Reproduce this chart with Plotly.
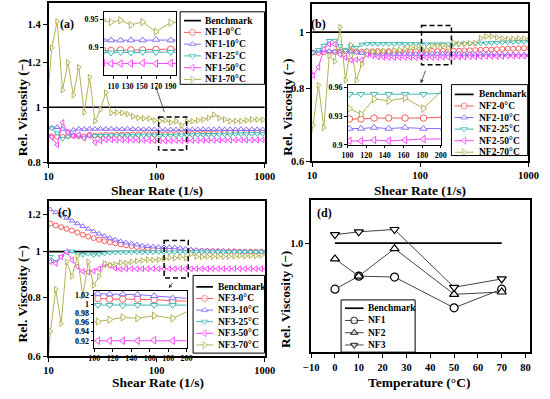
import math
import plotly.graph_objects as go

# ---------------- data ----------------
# shear-rate grids (1/s); first entry lies just left of the axis (line enters from the edge)
SHEAR_A = [9.54, 10.7, 12.01, 13.47, 15.11, 16.96, 19.03, 21.35, 23.95, 26.88, 30.16, 33.84, 37.96, 42.60,
           47.79, 53.63, 60.17, 67.51, 75.75, 84.99, 95.36, 107.0, 120.1, 134.7, 151.1, 169.6, 190.3, 213.5,
           239.5, 268.8, 301.6, 338.4, 379.6, 426.0, 477.9, 536.3, 601.7, 675.1, 757.5, 849.9, 953.6, 1070]
SHEAR_B = [9.09, 10.2, 11.44, 12.84, 14.41, 16.17, 18.14, 20.35, 22.83, 25.62, 28.75, 32.26, 36.19, 40.61,
           45.56, 51.12, 57.36, 64.36, 72.21, 81.02, 90.91, 102.0, 114.4, 128.4, 144.1, 161.7, 181.4, 203.5,
           228.3, 256.2, 287.5, 322.6, 361.9, 406.1, 455.6, 511.2, 573.6, 643.6, 722.1, 810.2, 909.1, 1020]
SHEAR_C = [9.27, 10.4, 11.67, 13.09, 14.69, 16.48, 18.49, 20.75, 23.28, 26.12, 29.31, 32.89, 36.90, 41.40,
           46.45, 52.12, 58.48, 65.62, 73.63, 82.61, 92.69, 104.0, 116.7, 130.9, 146.9, 164.8, 184.9, 207.5,
           232.8, 261.2, 293.1, 328.9, 369.0, 414.0, 464.5, 521.2, 584.8, 656.2, 736.3, 826.1, 926.9, 1040]

# (a) NF1
A_0 = [0.890, 0.888, 0.887, 0.886, 0.889, 0.891, 0.889, 0.888, 0.893, 0.891,
       0.892, 0.893, 0.893, 0.894, 0.894, 0.894, 0.895, 0.895, 0.896, 0.895,
       0.895, 0.895, 0.896, 0.896, 0.896, 0.897, 0.897, 0.897, 0.898, 0.898,
       0.899, 0.899, 0.900, 0.900, 0.901, 0.901, 0.902, 0.902, 0.903, 0.903,
       0.904, 0.904]
A_10 = [0.920, 0.920, 0.922, 0.915, 0.905, 0.912, 0.916, 0.915, 0.916, 0.915,
        0.916, 0.915, 0.916, 0.915, 0.915, 0.916, 0.915, 0.915, 0.914, 0.915,
        0.914, 0.913, 0.913, 0.913, 0.913, 0.914, 0.913, 0.914, 0.914, 0.914,
        0.914, 0.914, 0.915, 0.914, 0.914, 0.914, 0.915, 0.914, 0.914, 0.914,
        0.914, 0.914]
A_25 = [0.920, 0.918, 0.900, 0.879, 0.888, 0.893, 0.890, 0.882, 0.889, 0.890,
        0.891, 0.891, 0.892, 0.891, 0.892, 0.892, 0.891, 0.892, 0.892, 0.892,
        0.892, 0.891, 0.892, 0.891, 0.892, 0.892, 0.892, 0.893, 0.893, 0.894,
        0.894, 0.894, 0.895, 0.895, 0.895, 0.896, 0.896, 0.896, 0.897, 0.897,
        0.897, 0.897]
A_50 = [0.910, 0.885, 0.858, 0.940, 0.902, 0.890, 0.894, 0.882, 0.893, 0.866,
        0.872, 0.876, 0.876, 0.875, 0.875, 0.874, 0.875, 0.874, 0.874, 0.873,
        0.873, 0.872, 0.872, 0.872, 0.873, 0.872, 0.873, 0.873, 0.873, 0.874,
        0.874, 0.874, 0.874, 0.875, 0.874, 0.875, 0.875, 0.875, 0.875, 0.875,
        0.875, 0.875]
A_70 = [0.970, 1.274, 1.418, 1.072, 1.200, 1.050, 1.177, 0.979, 1.130, 0.945,
        0.990, 1.061, 0.977, 0.979, 0.977, 0.973, 0.964, 0.958, 0.956, 0.955,
        0.948, 0.945, 0.948, 0.940, 0.945, 0.928, 0.944, 0.945, 0.948, 0.951,
        0.957, 0.970, 0.957, 0.951, 0.945, 0.945, 0.945, 0.948, 0.951, 0.951,
        0.950, 0.950]

# (b) NF2
B_0 = [0.920, 0.922, 0.921, 0.923, 0.925, 0.924, 0.926, 0.927, 0.929, 0.926,
       0.925, 0.926, 0.926, 0.927, 0.926, 0.927, 0.927, 0.927, 0.927, 0.927,
       0.927, 0.927, 0.927, 0.928, 0.928, 0.928, 0.928, 0.929, 0.929, 0.930,
       0.930, 0.931, 0.932, 0.933, 0.933, 0.934, 0.935, 0.936, 0.936, 0.937,
       0.938, 0.938]
B_10 = [0.920, 0.922, 0.928, 0.930, 0.927, 0.925, 0.924, 0.930, 0.925, 0.922,
        0.920, 0.919, 0.918, 0.918, 0.917, 0.918, 0.917, 0.917, 0.917, 0.917,
        0.917, 0.917, 0.917, 0.918, 0.917, 0.918, 0.917, 0.917, 0.917, 0.916,
        0.916, 0.916, 0.916, 0.916, 0.916, 0.915, 0.915, 0.915, 0.915, 0.915,
        0.915, 0.915]
B_25 = [0.920, 0.922, 0.932, 0.948, 0.966, 0.967, 0.946, 0.930, 0.946, 0.940,
        0.952, 0.954, 0.955, 0.954, 0.955, 0.954, 0.954, 0.955, 0.954, 0.954,
        0.954, 0.953, 0.953, 0.953, 0.953, 0.953, 0.953, 0.954, 0.954, 0.955,
        0.955, 0.955, 0.956, 0.957, 0.958, 0.959, 0.960, 0.961, 0.962, 0.962,
        0.963, 0.963]
B_50 = [0.920, 0.842, 0.870, 0.934, 0.953, 0.953, 0.915, 0.904, 0.895, 0.897,
        0.895, 0.915, 0.910, 0.906, 0.905, 0.904, 0.904, 0.904, 0.904, 0.904,
        0.904, 0.904, 0.904, 0.905, 0.904, 0.905, 0.906, 0.906, 0.906, 0.906,
        0.907, 0.907, 0.907, 0.908, 0.908, 0.908, 0.908, 0.909, 0.909, 0.909,
        0.909, 0.909]
B_70 = [0.610, 0.692, 0.810, 0.685, 0.910, 0.890, 1.020, 0.826, 0.950, 0.826,
        0.880, 0.928, 0.925, 0.927, 0.928, 0.926, 0.930, 0.932, 0.935, 0.940,
        0.942, 0.938, 0.932, 0.948, 0.946, 0.949, 0.938, 0.959, 0.954, 0.955,
        0.957, 0.957, 0.976, 0.983, 0.983, 0.979, 0.975, 0.973, 0.973, 0.975,
        0.975, 0.975]

# (c) NF3
C_0 = [1.155, 1.148, 1.137, 1.128, 1.118, 1.109, 1.098, 1.087, 1.077, 1.069,
       1.060, 1.053, 1.047, 1.042, 1.037, 1.032, 1.028, 1.024, 1.020, 1.017,
       1.014, 1.012, 1.011, 1.011, 1.011, 1.010, 1.007, 1.005, 1.004, 1.003,
       1.003, 1.002, 1.002, 1.001, 1.001, 1.001, 1.000, 1.000, 1.000, 1.000,
       1.000, 1.000]
C_10 = [1.245, 1.230, 1.212, 1.198, 1.180, 1.163, 1.148, 1.133, 1.118, 1.104,
        1.092, 1.080, 1.069, 1.060, 1.052, 1.045, 1.040, 1.035, 1.030, 1.027,
        1.025, 1.023, 1.022, 1.022, 1.021, 1.018, 1.013, 1.010, 1.008, 1.006,
        1.005, 1.004, 1.003, 1.003, 1.002, 1.002, 1.001, 1.001, 1.000, 1.000,
        1.000, 1.000]
C_25 = [0.980, 0.976, 0.952, 0.975, 1.000, 1.002, 0.990, 0.985, 0.990, 0.983,
        0.988, 0.992, 0.995, 0.996, 0.997, 0.997, 0.997, 0.998, 0.997, 0.998,
        0.998, 0.998, 0.998, 0.997, 0.998, 0.998, 0.998, 0.998, 0.998, 0.998,
        0.998, 0.998, 0.998, 0.998, 0.998, 0.998, 0.998, 0.998, 0.998, 0.998,
        0.998, 0.998]
C_50 = [0.960, 0.952, 0.944, 0.975, 1.000, 0.960, 0.930, 0.908, 0.905, 0.910,
        0.920, 0.939, 0.934, 0.922, 0.918, 0.920, 0.920, 0.919, 0.920, 0.920,
        0.920, 0.920, 0.920, 0.920, 0.920, 0.921, 0.920, 0.920, 0.920, 0.920,
        0.920, 0.920, 0.920, 0.920, 0.920, 0.920, 0.920, 0.920, 0.920, 0.920,
        0.920, 0.920]
C_70 = [0.480, 0.677, 0.832, 0.703, 0.952, 0.886, 0.979, 0.805, 0.952, 0.848,
        0.886, 0.944, 0.936, 0.940, 0.948, 0.946, 0.952, 0.955, 0.958, 0.962,
        0.960, 0.962, 0.966, 0.971, 0.969, 0.975, 0.969, 0.990, 0.976, 0.975,
        0.977, 0.976, 0.978, 0.976, 0.977, 0.978, 0.980, 0.979, 0.981, 0.980,
        0.982, 0.982]

# (d) relative viscosity vs temperature
TEMPS = [0, 10, 25, 50, 70]
D_NF1 = [0.901, 0.929, 0.927, 0.861, 0.901]
D_NF2 = [0.966, 0.929, 0.988, 0.890, 0.895]
D_NF3 = [1.018, 1.024, 1.029, 0.905, 0.923]
BENCH = 1.0
BENCH_T = [0, 70]

TEMP_LABELS = ["0°C", "10°C", "25°C", "50°C", "70°C"]

for name, arr, grid in [("A_0", A_0, SHEAR_A), ("A_10", A_10, SHEAR_A), ("A_25", A_25, SHEAR_A),
                        ("A_50", A_50, SHEAR_A), ("A_70", A_70, SHEAR_A),
                        ("B_0", B_0, SHEAR_B), ("B_10", B_10, SHEAR_B), ("B_25", B_25, SHEAR_B),
                        ("B_50", B_50, SHEAR_B), ("B_70", B_70, SHEAR_B),
                        ("C_0", C_0, SHEAR_C), ("C_10", C_10, SHEAR_C), ("C_25", C_25, SHEAR_C),
                        ("C_50", C_50, SHEAR_C), ("C_70", C_70, SHEAR_C)]:
    if len(arr) != len(grid):
        raise ValueError(f"{name}: {len(arr)} vs {len(grid)}")

# ---------------- styling ----------------
W, H = 550, 399
FONT = "Liberation Serif, Times New Roman, serif"
COLORS = ["#ff5a5a", "#8a6cff", "#3fb8b4", "#ff45ff", "#b3b25a"]
SYMBOLS = ["circle", "triangle-up", "triangle-down", "triangle-left", "triangle-right"]


def dx(l, r):
    return [l / W, r / W]


def dy(t, b):
    return [1 - b / H, 1 - t / H]


def font(size):
    return dict(family=FONT, size=size, color="black", weight="bold")


fig = go.Figure()

panels = [
    dict(x=SHEAR_A, ys=[A_0, A_10, A_25, A_50, A_70], xa="x", ya="y", ix="x5", iy="y5"),
    dict(x=SHEAR_B, ys=[B_0, B_10, B_25, B_50, B_70], xa="x2", ya="y2", ix="x6", iy="y6"),
    dict(x=SHEAR_C, ys=[C_0, C_10, C_25, C_50, C_70], xa="x3", ya="y3", ix="x7", iy="y7"),
]

# main panels
for p in panels:
    fig.add_trace(go.Scatter(x=[10, 1000], y=[BENCH, BENCH], xaxis=p["xa"], yaxis=p["ya"], mode="lines",
                             line=dict(color="black", width=1.7), hoverinfo="skip"))
    for ys, col, sym in zip(p["ys"], COLORS, SYMBOLS):
        fig.add_trace(go.Scatter(x=p["x"], y=ys, xaxis=p["xa"], yaxis=p["ya"], mode="lines+markers",
                                 line=dict(color=col, width=1),
                                 marker=dict(symbol=sym, size=5, color="white", line=dict(color=col, width=1))))

# panel d
fig.add_trace(go.Scatter(x=BENCH_T, y=[BENCH, BENCH], xaxis="x4", yaxis="y4", mode="lines",
                         line=dict(color="black", width=1.7)))
for ys, sym in zip([D_NF1, D_NF2, D_NF3], ["circle", "triangle-up", "triangle-down"]):
    fig.add_trace(go.Scatter(x=TEMPS, y=ys, xaxis="x4", yaxis="y4", mode="lines+markers",
                             line=dict(color="#444", width=1),
                             marker=dict(symbol=sym, size=8, color="white", line=dict(color="black", width=1.2))))

# insets
for p in panels:
    for ys, col, sym in zip(p["ys"], COLORS, SYMBOLS):
        fig.add_trace(go.Scatter(x=p["x"], y=ys, xaxis=p["ix"], yaxis=p["iy"], mode="lines+markers",
                                 line=dict(color=col, width=1),
                                 marker=dict(symbol=sym, size=6.5, color="white", line=dict(color=col, width=1))))

# ---------------- axes ----------------
MAIN = dict(showline=True, linecolor="black", linewidth=1.6, mirror=True, ticks="outside", ticklen=4,
            tickwidth=1.4, tickcolor="black", showgrid=False, zeroline=False, tickfont=font(10.5))
INSET = dict(showline=True, linecolor="black", linewidth=1, mirror=True, ticks="outside", ticklen=2.5,
             tickwidth=1, tickcolor="black", showgrid=False, zeroline=False, tickfont=font(8))

SR_TICKS = [10, 100, 1000]
layout = dict(
    xaxis=dict(MAIN, type="log", range=[1, 3], domain=dx(42, 266), anchor="y",
               tickvals=SR_TICKS, ticktext=[str(v) for v in SR_TICKS]),
    yaxis=dict(MAIN, type="log", range=[math.log10(0.8), math.log10(1.526)], domain=dy(1.5, 163.3), anchor="x",
               tickvals=[0.8, 1, 1.2, 1.4], ticktext=["0.8", "1", "1.2", "1.4"]),
    xaxis2=dict(MAIN, type="log", range=[1, 3], domain=dx(315, 539), anchor="y2",
                tickvals=SR_TICKS, ticktext=[str(v) for v in SR_TICKS]),
    yaxis2=dict(MAIN, type="log", range=[math.log10(0.6), math.log10(1.119)], domain=dy(1.7, 162.3), anchor="x2",
                tickvals=[0.6, 0.8, 1], ticktext=["0.6", "0.8", "1"]),
    xaxis3=dict(MAIN, type="log", range=[1, 3], domain=dx(42, 266), anchor="y3",
                tickvals=SR_TICKS, ticktext=[str(v) for v in SR_TICKS]),
    yaxis3=dict(MAIN, type="log", range=[math.log10(0.6), math.log10(1.284)], domain=dy(202.7, 361.3), anchor="x3",
                tickvals=[0.6, 0.8, 1, 1.2], ticktext=["0.6", "0.8", "1", "1.2"]),
    xaxis4=dict(MAIN, range=[-10, 82], domain=dx(314, 541), anchor="y4", tick0=-10, dtick=10),
    yaxis4=dict(MAIN, range=[0.766, 1.093], domain=dy(201.7, 357.3), anchor="x4",
                tickvals=[1.0], ticktext=["1.0"]),
    xaxis5=dict(INSET, range=[96.5, 197.7], domain=dx(99, 174), anchor="y5",
                tickvals=[110, 130, 150, 170, 190]),
    yaxis5=dict(INSET, range=[0.851, 0.963], domain=dy(10, 75), anchor="x5",
                tickvals=[0.9, 0.95], ticktext=["0.9", "0.95"]),
    xaxis6=dict(INSET, range=[100, 200], domain=dx(351.7, 448.3), anchor="y6",
                tickvals=[100, 120, 140, 160, 180, 200]),
    yaxis6=dict(INSET, range=[0.9, 0.9623], domain=dy(85, 145.7), anchor="x6",
                tickvals=[0.9, 0.93, 0.96], ticktext=["0.9", "0.93", "0.96"]),
    xaxis7=dict(INSET, range=[100, 200], domain=dx(89.3, 185), anchor="y7",
                tickvals=[100, 120, 140, 160, 180, 200]),
    yaxis7=dict(INSET, range=[0.9036, 1.0286], domain=dy(295, 353.3), anchor="x7",
                tickvals=[0.92, 0.94, 0.96, 0.98, 1.0, 1.02],
                ticktext=["0.92", "0.94", "0.96", "0.98", "1", "1.02"]),
    # pixel overlay for legends, arrows, dashed boxes and titles
    xaxis8=dict(range=[0, W], domain=[0, 1], anchor="y8", visible=False, fixedrange=True),
    yaxis8=dict(range=[H, 0], domain=[0, 1], anchor="x8", visible=False, fixedrange=True),
)

shapes = []
annotations = []

# white backgrounds for insets (drawn inside the inset subplot, below its data)
for xa, ya, key in [("x5", "y5", "5"), ("x6", "y6", "6"), ("x7", "y7", "7")]:
    xr = layout["xaxis" + key]["range"]
    yr = layout["yaxis" + key]["range"]
    shapes.append(dict(type="rect", xref=xa, yref=ya, x0=xr[0], x1=xr[1], y0=yr[0], y1=yr[1],
                       fillcolor="white", line=dict(width=0), layer="below"))

# dashed zoom boxes + arrows (pixel overlay)
for (l, t, r, b) in [(156, 117.3, 185, 151), (428.3, 24, 459.3, 64), (161.7, 243.3, 186.7, 281.7)]:
    shapes.append(dict(type="rect", xref="x8", yref="y8", x0=l, x1=r, y0=t, y1=b,
                       line=dict(color="black", width=1.5, dash="5px,3px"), layer="above"))
for (hx, hy, tx, ty) in [(153, 86, 162.5, 114), (427.5, 83, 433, 68.5), (166.5, 292, 171.7, 285)]:
    annotations.append(dict(x=hx, y=hy, ax=tx, ay=ty, xref="x8", yref="y8", axref="x8", ayref="y8",
                            text="", showarrow=True, arrowhead=2, arrowsize=0.9, arrowwidth=0.8,
                            arrowcolor="#333", standoff=0, startstandoff=0))

# legends
LEGENDS = [
    dict(box=(178.3, 10, 265.7, 84), y0=19.0, step=12.0, line=(182.3, 200.0), tx=202.0, nf="NF1-"),
    dict(box=(459.3, 84.3, 538.3, 156.7), y0=94.3, step=11.8, line=(462.7, 482.3), tx=485.7, nf="NF2-"),
    dict(box=(191.7, 279, 265.7, 358.3), y0=290.7, step=11.85, line=(195.0, 212.3), tx=215.0, nf="NF3-"),
]
for lg in LEGENDS:
    l, t, r, b = lg["box"]
    shapes.append(dict(type="rect", xref="x8", yref="y8", x0=l, x1=r, y0=t, y1=b,
                       line=dict(color="black", width=1), layer="above"))
    x1, x2 = lg["line"]
    xm = (x1 + x2) / 2
    yb = lg["y0"]
    fig.add_trace(go.Scatter(x=[x1, x2], y=[yb, yb], xaxis="x8", yaxis="y8", mode="lines",
                             line=dict(color="black", width=1.7)))
    annotations.append(dict(x=lg["tx"], y=yb, xref="x8", yref="y8", text="Benchmark", showarrow=False,
                            xanchor="left", yanchor="middle", font=font(9.5)))
    for i, (col, sym, lab) in enumerate(zip(COLORS, SYMBOLS, TEMP_LABELS)):
        yy = lg["y0"] + (i + 1) * lg["step"]
        fig.add_trace(go.Scatter(x=[x1, xm, x2], y=[yy, yy, yy], xaxis="x8", yaxis="y8", mode="lines+markers",
                                 line=dict(color=col, width=1),
                                 marker=dict(symbol=sym, size=[0, 6, 0], color="white",
                                             line=dict(color=col, width=1))))
        annotations.append(dict(x=lg["tx"], y=yy, xref="x8", yref="y8", text=lg["nf"] + lab, showarrow=False,
                                xanchor="left", yanchor="middle", font=font(9.5)))

# legend (d)
shapes.append(dict(type="rect", xref="x8", yref="y8", x0=345, x1=421.7, y0=304, y1=357.3,
                   line=dict(color="black", width=1), layer="above"))
D_ROWS = [("Benchmark", None), ("NF1", "circle"), ("NF2", "triangle-up"), ("NF3", "triangle-down")]
for i, (lab, sym) in enumerate(D_ROWS):
    yy = 312.5 + i * 12.5
    if sym is None:
        fig.add_trace(go.Scatter(x=[349, 368.3], y=[yy, yy], xaxis="x8", yaxis="y8", mode="lines",
                                 line=dict(color="black", width=1.7)))
    else:
        fig.add_trace(go.Scatter(x=[349, 358.6, 368.3], y=[yy, yy, yy], xaxis="x8", yaxis="y8",
                                 mode="lines+markers", line=dict(color="#444", width=1),
                                 marker=dict(symbol=sym, size=[0, 6.5, 0], color="white",
                                             line=dict(color="black", width=1.2))))
    annotations.append(dict(x=371, y=yy, xref="x8", yref="y8", text=lab, showarrow=False,
                            xanchor="left", yanchor="middle", font=font(9.5)))

# axis titles and panel labels
YT = "Rel. Viscosity (\u2212)"
for (x, y) in [(15, 108), (290, 107), (15, 298), (288, 304)]:
    annotations.append(dict(x=x, y=y, xref="x8", yref="y8", text=YT, textangle=-90, showarrow=False,
                            font=font(13.5)))
for (x, y, txt) in [(154, 192, "Shear Rate (1/s)"), (427, 192, "Shear Rate (1/s)"),
                    (155.5, 388, "Shear Rate (1/s)"), (426, 388, "Temperature (°C)")]:
    annotations.append(dict(x=x, y=y, xref="x8", yref="y8", text=txt, showarrow=False, font=font(13.5)))
for (x, y, txt) in [(61.5, 22.5, "(a)"), (322, 22.5, "(b)"), (59, 214, "(c)"), (327.5, 215, "(d)")]:
    annotations.append(dict(x=x, y=y, xref="x8", yref="y8", text=txt, showarrow=False, font=font(12)))

fig.update_layout(**layout)
fig.update_layout(width=W, height=H, autosize=False, margin=dict(l=0, r=0, t=0, b=0),
                  paper_bgcolor="white", plot_bgcolor="rgba(0,0,0,0)", showlegend=False,
                  shapes=shapes, annotations=annotations)
fig.write_html("out.html", config={"displayModeBar": False},
               post_script="document.body.style.margin='0';document.body.style.overflow='hidden';")
